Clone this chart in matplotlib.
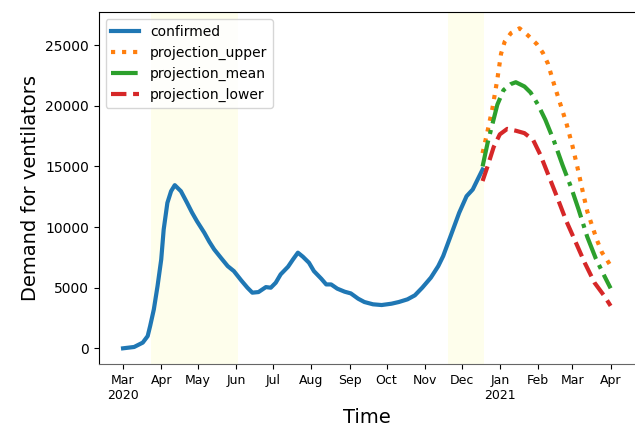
import numpy as np
import pandas as pd
import matplotlib
matplotlib.use("Agg")
import matplotlib.pyplot as plt

# ventilator demand, observed
confirmed_dates = [
    "2020-03-01", "2020-03-10", "2020-03-17", "2020-03-21", "2020-03-23",
    "2020-03-26", "2020-03-29", "2020-04-01", "2020-04-03", "2020-04-06",
    "2020-04-09", "2020-04-12", "2020-04-17", "2020-04-22", "2020-04-26",
    "2020-04-30", "2020-05-06", "2020-05-10", "2020-05-14", "2020-05-20",
    "2020-05-25", "2020-05-30", "2020-06-05", "2020-06-10", "2020-06-14",
    "2020-06-19", "2020-06-25", "2020-06-29", "2020-07-03", "2020-07-07",
    "2020-07-13", "2020-07-17", "2020-07-21", "2020-07-25", "2020-07-30",
    "2020-08-03", "2020-08-09", "2020-08-13", "2020-08-17", "2020-08-22",
    "2020-08-28", "2020-09-02", "2020-09-08", "2020-09-13", "2020-09-20",
    "2020-09-27", "2020-10-05", "2020-10-11", "2020-10-18", "2020-10-24",
    "2020-10-30", "2020-11-06", "2020-11-12", "2020-11-16", "2020-11-22",
    "2020-11-29", "2020-12-05", "2020-12-10", "2020-12-14", "2020-12-18",
]
confirmed = [
    0, 110, 470, 1010, 1840,
    3210, 5130, 7330, 9800, 12000,
    12960, 13460, 12960, 12000, 11200,
    10490, 9530, 8800, 8160, 7400,
    6780, 6370, 5600, 5000, 4590,
    4640, 5050, 5000, 5410, 6100,
    6730, 7330, 7890, 7560, 7060,
    6370, 5740, 5270, 5270, 4920,
    4670, 4530, 4090, 3820, 3630,
    3570, 3680, 3820, 4040, 4370,
    5000, 5830, 6780, 7610, 9250,
    11180, 12550, 13100, 13930, 14750,
]

# projections
upper_dates = [
    "2020-12-18", "2020-12-22", "2020-12-26", "2020-12-30", "2021-01-02",
    "2021-01-05", "2021-01-10", "2021-01-17", "2021-01-24", "2021-01-31",
    "2021-02-05", "2021-02-09", "2021-02-14", "2021-02-19", "2021-02-24",
    "2021-03-01", "2021-03-05", "2021-03-09", "2021-03-13", "2021-03-17",
    "2021-03-21", "2021-03-25", "2021-03-29", "2021-04-01",
]
upper = [
    16100, 17900, 19800, 22200, 24300,
    25300, 26000, 26400, 25800, 25100,
    24370, 23500, 21800, 20200, 18600,
    16700, 14950, 13100, 11300, 10100,
    8900, 7900, 7300, 6800,
]

mean_dates = [
    "2020-12-18", "2020-12-22", "2020-12-26", "2020-12-30", "2021-01-04",
    "2021-01-10", "2021-01-14", "2021-01-21", "2021-01-26", "2021-02-01",
    "2021-02-07", "2021-02-14", "2021-02-21", "2021-02-28", "2021-03-06",
    "2021-03-13", "2021-03-20", "2021-03-27", "2021-04-01",
]
mean = [
    15000, 16900, 18500, 20100, 21300,
    21800, 21950, 21600, 21100, 20100,
    18850, 17100, 15100, 13250, 11450,
    9200, 7400, 5950, 4950,
]

lower_dates = [
    "2020-12-18", "2020-12-22", "2020-12-27", "2021-01-01", "2021-01-07",
    "2021-01-14", "2021-01-21", "2021-01-28", "2021-02-03", "2021-02-10",
    "2021-02-17", "2021-02-24", "2021-03-03", "2021-03-11", "2021-03-19",
    "2021-03-27", "2021-04-01",
]
lower = [
    13800, 15000, 16600, 17650, 18100,
    17950, 17750, 17200, 15950, 14150,
    12350, 10500, 8900, 7050, 5400,
    4300, 3500,
]

# shaded periods
spans = [("2020-03-24", "2020-06-02"), ("2020-11-20", "2020-12-19")]

month_ticks = pd.date_range("2020-03-01", "2021-04-01", freq="MS")
month_labels = ["Mar\n2020", "Apr", "May", "Jun", "Jul", "Aug", "Sep", "Oct",
                "Nov", "Dec", "Jan\n2021", "Feb", "Mar", "Apr"]

fig = plt.figure(figsize=(6.35, 4.28), dpi=100)
ax = fig.add_axes([0.1554, 0.1488, 0.8446, 0.8225])

for start, end in spans:
    ax.axvspan(pd.Timestamp(start), pd.Timestamp(end), color="#fefeec", lw=0)

ax.plot(pd.to_datetime(confirmed_dates), confirmed, color="tab:blue", lw=3, label="confirmed")
ax.plot(pd.to_datetime(upper_dates), upper, color="tab:orange", lw=3, ls=":", label="projection_upper")
ax.plot(pd.to_datetime(mean_dates), mean, color="tab:green", lw=3, ls="-.", label="projection_mean")
ax.plot(pd.to_datetime(lower_dates), lower, color="tab:red", lw=3, ls="--", label="projection_lower")

ax.set_xticks(month_ticks)
ax.set_xticklabels(month_labels, fontsize=9)
ax.tick_params(axis="y", labelsize=10)
ax.set_xlabel("Time", fontsize=14)
ax.set_ylabel("Demand for ventilators", fontsize=14)

ax.spines["right"].set_visible(False)
ax.spines["bottom"].set_color("#666666")

ax.legend(loc="upper left", fontsize=10)

fig.savefig("out.png", dpi=100)
